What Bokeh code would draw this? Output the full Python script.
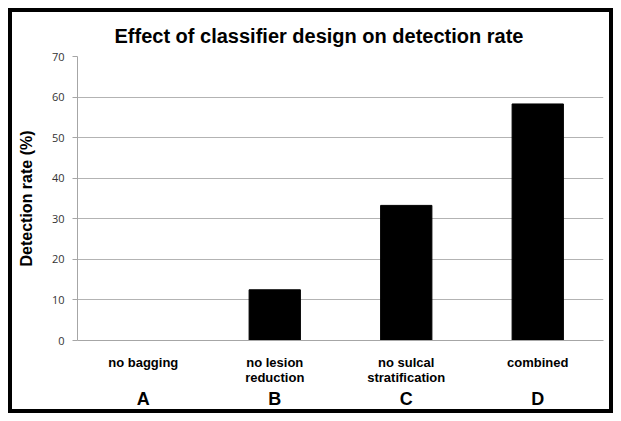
from bokeh.plotting import figure
from bokeh.models import (ColumnDataSource, CategoricalAxis, FactorRange, Range1d,
                          FixedTicker)
from bokeh.embed import file_html
from bokeh.resources import INLINE

letters = ["A", "B", "C", "D"]
labels = ["no bagging", "no lesion\nreduction", "no sulcal\nstratification", "combined"]
rates = [0.0, 12.5, 33.3, 58.3]
y_ticks = [0, 10, 20, 30, 40, 50, 60, 70]

src = ColumnDataSource(dict(x=labels, y=rates))

p = figure(width=605, height=405, output_backend="svg", toolbar_location=None,
           x_range=FactorRange(*labels, range_padding=0), y_range=Range1d(0, 70),
           x_axis_location=None, min_border_left=65, min_border_right=14,
           min_border_top=44, min_border_bottom=77)
p.styles = {"border": "4px solid black", "margin": "8px"}
p.extra_x_ranges = {"letters": FactorRange(*letters, range_padding=0)}
p.outline_line_color = None

p.vbar(x="x", top="y", width=0.39, source=src, fill_color="black", line_color="black")

p.title.text = "Effect of classifier design on detection rate"
p.title.align = "left"
p.title.offset = 37
p.title.text_font = "Liberation Sans"
p.title.text_font_size = "20px"
p.title.text_font_style = "bold"
p.title.text_color = "black"
p.title.standoff = 20

# y axis
ya = p.yaxis[0]
ya.ticker = FixedTicker(ticks=y_ticks)
ya.axis_label = "Detection rate (%)"
ya.axis_label_text_font = "Liberation Sans"
ya.axis_label_text_font_size = "16px"
ya.axis_label_text_font_style = "bold"
ya.axis_label_text_color = "black"
ya.axis_label_standoff = 14
ya.major_label_text_font = "Open Sans"
ya.major_label_text_font_size = "11px"
ya.major_label_text_color = "#333333"
ya.major_label_standoff = 8
ya.axis_line_color = "#a6a6a6"
ya.major_tick_line_color = "#a6a6a6"
ya.major_tick_out = 5
ya.major_tick_in = 0
ya.minor_tick_line_color = None

p.ygrid.grid_line_color = "#b3b3b3"
p.xgrid.grid_line_color = None

# category labels
xa = CategoricalAxis()
xa.axis_line_color = "#a6a6a6"
xa.major_tick_line_color = None
xa.major_tick_out = 0
xa.major_tick_in = 0
xa.major_label_text_font = "Liberation Sans"
xa.major_label_text_font_size = "13px"
xa.major_label_text_font_style = "bold"
xa.major_label_text_color = "black"
xa.major_label_text_line_height = 1.05
xa.major_label_standoff = 14
p.add_layout(xa, "below")

# letters axis
la = CategoricalAxis(x_range_name="letters")
la.axis_line_color = None
la.major_tick_line_color = None
la.major_tick_out = 0
la.major_tick_in = 0
la.major_label_text_font = "Liberation Sans"
la.major_label_text_font_size = "18px"
la.major_label_text_font_style = "bold"
la.major_label_text_color = "black"
la.major_label_standoff = 0
p.add_layout(la, "below")

open("out.html", "w").write(file_html(p, INLINE))
